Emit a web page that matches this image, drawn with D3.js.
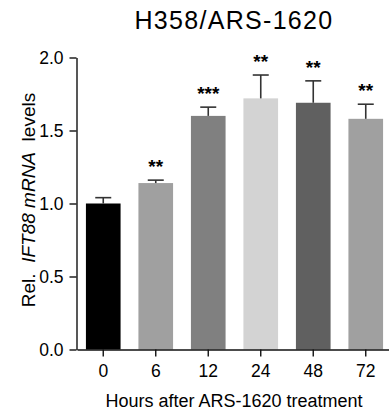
<!DOCTYPE html>
<html lang='en'>
<script src="https://d3js.org/d3.v7.min.js"></script>
<style>
body { margin:0; background:#fff; }
text { font-family: "Liberation Sans", Arial, sans-serif; }
</style>
<body>
<div id="chart"></div>
<script>

// data
var hours = ["0", "6", "12", "24", "48", "72"];
var means = [1.00, 1.14, 1.60, 1.72, 1.69, 1.58];
var sems  = [0.04, 0.02, 0.06, 0.16, 0.15, 0.10];
var stars = ["", "**", "***", "**", "**", "**"];
var fills = ["#000000", "#a0a0a0", "#808080", "#d3d3d3", "#606060", "#a0a0a0"];
var yTicks = [0, 0.5, 1.0, 1.5, 2.0];

var svg = d3.select("#chart")
  .append("svg")
    .attr("width", 389)
    .attr("height", 416);

var x = d3.scaleBand()
  .domain(hours)
  .range([77, 392])
  .paddingInner(0.34)
  .paddingOuter(0.17);

var y = d3.scaleLinear()
  .domain([0, 2])
  .range([349.5, 57.5]);

// bars
svg.selectAll("rect.bar")
  .data(hours)
  .enter().append("rect")
    .attr("class", "bar")
    .attr("x", function(d){ return x(d); })
    .attr("y", function(d, i){ return y(means[i]); })
    .attr("width", x.bandwidth())
    .attr("height", function(d, i){ return y(0) - y(means[i]); })
    .style("fill", function(d, i){ return fills[i]; });

// error bars (upper only)
var err = svg.append("g")
  .attr("stroke", "#333")
  .attr("stroke-width", 1.6);
hours.forEach(function(d, i){
  var cx = x(d) + x.bandwidth() / 2;
  err.append("line")
    .attr("x1", cx).attr("x2", cx)
    .attr("y1", y(means[i])).attr("y2", y(means[i] + sems[i]));
  err.append("line")
    .attr("x1", cx - 8).attr("x2", cx + 8)
    .attr("y1", y(means[i] + sems[i])).attr("y2", y(means[i] + sems[i]));
});

// significance stars
svg.selectAll("text.star")
  .data(hours)
  .enter().append("text")
    .attr("class", "star")
    .attr("x", function(d){ return x(d) + x.bandwidth() / 2; })
    .attr("y", function(d, i){ return y(means[i] + sems[i]) - 7; })
    .attr("text-anchor", "middle")
    .attr("font-size", "19px")
    .attr("font-weight", "bold")
    .attr("fill", "#000")
    .text(function(d, i){ return stars[i]; });

// axes
svg.append("g")
  .attr("transform", "translate(76.5,0)")
  .call(d3.axisLeft(y).tickValues(yTicks).tickFormat(d3.format(".1f"))
        .tickSize(7).tickSizeOuter(0).tickPadding(6));

svg.append("g")
  .attr("transform", "translate(0,349.5)")
  .call(d3.axisBottom(x).tickSize(7).tickSizeOuter(0).tickPadding(8));

svg.selectAll(".domain, .tick line")
  .attr("stroke", "#111")
  .attr("stroke-width", 1.4);
svg.selectAll(".tick text")
  .attr("font-size", "17.5px")
  .attr("fill", "#000")
  .style("font-family", "'Liberation Sans', Arial, sans-serif");

// title
svg.append("text")
  .attr("x", 234)
  .attr("y", 29)
  .attr("text-anchor", "middle")
  .attr("font-size", "25px")
  .attr("letter-spacing", "1.3px")
  .attr("fill", "#000")
  .text("H358/ARS-1620");

// x label
svg.append("text")
  .attr("x", 234)
  .attr("y", 406.5)
  .attr("text-anchor", "middle")
  .attr("font-size", "18px")
  .attr("fill", "#000")
  .text("Hours after ARS-1620 treatment");

// y label with italic gene name
var yl = svg.append("text")
  .attr("transform", "translate(35,200) rotate(-90)")
  .attr("text-anchor", "middle")
  .attr("font-size", "19px")
  .attr("fill", "#000")
  .style("white-space", "pre");
yl.append("tspan").text("Rel.  ");
yl.append("tspan").attr("font-style", "italic").text("IFT88 mRNA");
yl.append("tspan").text("  levels");

</script>
</body>
</html>
